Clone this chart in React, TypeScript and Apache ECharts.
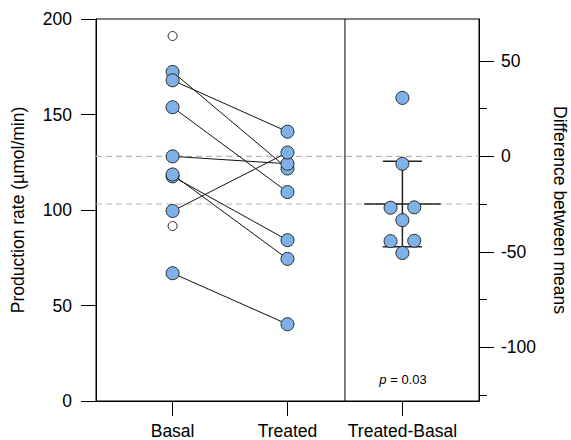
import React, { useEffect, useRef } from 'react';
import * as echarts from 'echarts';

// ---- data ----
const categories = ['Basal', 'Treated', 'Treated-Basal'];
const basalPaired = [172.3, 167.9, 153.8, 128.1, 117.6, 118.6, 99.5, 66.9];
const treatedPaired = [121.7, 141.0, 109.4, 124.2, 84.2, 74.4, 130.1, 40.2];
const basalUnpaired = [191.1, 91.6];
const leftTicks = [0, 50, 100, 150, 200];
const rightMajorTicks = [-100, -50, 0, 50];
const rightMinorTicks = [-125, -75, -25, 25];
const pLabel = { italic: 'p', rest: ' = 0.03' };
const T_CRIT_DF7 = 2.365;

const FONT = "'Liberation Sans', Arial, Helvetica, sans-serif";
const BLUE = '#7EB1E8';
const EDGE = '#2a2a2a';
const FS = 17.5;

const mean = (a: number[]) => a.reduce((s, v) => s + v, 0) / a.length;

export default function App() {
  const ref = useRef<HTMLDivElement>(null);

  useEffect(() => {
    if (!ref.current) return;
    const chart = echarts.init(ref.current, undefined, { renderer: 'svg' });

    const diffs = basalPaired.map((b, i) => treatedPaired[i] - b);
    const basalMean = mean(basalPaired);
    const treatedMean = mean(treatedPaired);
    const diffMean = mean(diffs);
    const sd = Math.sqrt(diffs.reduce((s, d) => s + (d - diffMean) ** 2, 0) / (diffs.length - 1));
    const ci = (T_CRIT_DF7 * sd) / Math.sqrt(diffs.length);
    const yMin = leftTicks[0];
    const yMax = leftTicks[leftTicks.length - 1];
    const rMin = yMin - basalMean;
    const rMax = yMax - basalMean;

    // spread near-identical difference points sideways
    const diffPts = diffs.map((d, i) => {
      const group = diffs.map((v, j) => j).filter((j) => Math.abs(diffs[j] - d) < 3);
      let x = 3;
      if (group.length > 1) {
        const k = group.indexOf(i);
        x = 3 + (k - (group.length - 1) / 2) * 0.206;
      }
      return [x, d];
    });

    const xMin = 1 / 3;
    const xMax = 11 / 3;

    const blackLine = { color: '#000', width: 1 };

    const pairSeries = basalPaired.map((b, i) => ({
      type: 'line',
      data: [
        [1, b],
        [2, treatedPaired[i]],
      ],
      showSymbol: false,
      symbol: 'none',
      lineStyle: { color: '#111', width: 1 },
      z: 3,
      silent: true,
    }));

    const seg = (pts: number[][], axis: number, style: any, z = 2) => ({
      type: 'line',
      data: pts,
      yAxisIndex: axis,
      showSymbol: false,
      symbol: 'none',
      lineStyle: style,
      z,
      silent: true,
    });

    const dashStyle = { color: '#b4b4b4', width: 1.2, type: [6, 4] };
    const barStyle = { color: '#222', width: 1.5 };

    const option: any = {
      animation: false,
      backgroundColor: '#fff',
      textStyle: { fontFamily: FONT },
      grid: {
        left: 96,
        right: 92,
        top: 19,
        bottom: 39,
        show: true,
        borderColor: '#000',
        borderWidth: 1,
        backgroundColor: 'transparent',
        containLabel: false,
        outerBoundsMode: 'none',
      },
      xAxis: {
        type: 'value',
        min: xMin,
        max: xMax,
        splitLine: { show: false },
        axisLine: { show: true, onZero: false, lineStyle: blackLine },
        axisTick: { show: true, length: 15, customValues: [1, 2, 3], lineStyle: blackLine },
        axisLabel: {
          customValues: [1, 2, 3],
          formatter: (v: number) => categories[Math.round(v) - 1] ?? '',
          fontSize: FS,
          color: '#000',
          margin: 21,
          fontFamily: FONT,
        },
      },
      yAxis: [
        {
          type: 'value',
          position: 'left',
          min: yMin,
          max: yMax,
          interval: 50,
          splitLine: { show: false },
          axisLine: { show: true, onZero: false, lineStyle: blackLine },
          axisTick: { show: true, length: 15, lineStyle: blackLine },
          axisLabel: { fontSize: FS, color: '#000', margin: 24, fontFamily: FONT },
          name: 'Production rate (µmol/min)',
          nameLocation: 'middle',
          nameRotate: 90,
          nameGap: 69,
          nameTextStyle: { fontSize: FS, color: '#000', fontFamily: FONT },
        },
        {
          type: 'value',
          position: 'right',
          min: rMin,
          max: rMax,
          splitLine: { show: false },
          axisLine: { show: true, onZero: false, lineStyle: blackLine },
          axisTick: { show: true, length: 15, customValues: rightMajorTicks, lineStyle: blackLine },
          axisLabel: {
            customValues: rightMajorTicks,
            fontSize: FS,
            color: '#000',
            margin: 22,
            fontFamily: FONT,
          },
          name: 'Difference between means',
          nameLocation: 'middle',
          nameRotate: -90,
          nameGap: 72,
          nameTextStyle: { fontSize: FS, color: '#000', fontFamily: FONT },
        },
        {
          type: 'value',
          position: 'right',
          min: rMin,
          max: rMax,
          splitLine: { show: false },
          axisLine: { show: false },
          axisTick: { show: true, length: 8, customValues: rightMinorTicks, lineStyle: blackLine },
          axisLabel: { show: false, customValues: rightMinorTicks },
        },
      ],
      series: [
        // mean dashed lines
        seg([[xMin, basalMean], [xMax, basalMean]], 0, dashStyle, 1),
        seg([[xMin, treatedMean], [xMax, treatedMean]], 0, dashStyle, 1),
        // divider
        seg([[2.5, yMin], [2.5, yMax]], 0, blackLine, 1),
        ...pairSeries,
        // error bar (mean and 95% CI of the differences)
        seg([[3 - 0.333, diffMean], [3 + 0.333, diffMean]], 1, barStyle, 3),
        seg([[3 - 0.17, diffMean + ci], [3 + 0.17, diffMean + ci]], 1, barStyle, 3),
        seg([[3 - 0.17, diffMean - ci], [3 + 0.17, diffMean - ci]], 1, barStyle, 3),
        seg([[3, diffMean - ci], [3, diffMean + ci]], 1, barStyle, 3),
        {
          type: 'scatter',
          data: basalUnpaired.map((v) => [1, v]),
          symbol: 'circle',
          symbolSize: 9,
          itemStyle: { color: '#fff', borderColor: EDGE, borderWidth: 1, opacity: 1 },
          z: 5,
          silent: true,
        },
        {
          type: 'scatter',
          data: [...basalPaired.map((v) => [1, v]), ...treatedPaired.map((v) => [2, v])],
          symbol: 'circle',
          symbolSize: 13,
          itemStyle: { color: BLUE, borderColor: EDGE, borderWidth: 1, opacity: 1 },
          z: 5,
          silent: true,
        },
        {
          type: 'scatter',
          yAxisIndex: 1,
          data: diffPts,
          symbol: 'circle',
          symbolSize: 13,
          itemStyle: { color: BLUE, borderColor: EDGE, borderWidth: 1, opacity: 1 },
          z: 5,
          silent: true,
        },
      ],
      graphic: [
        {
          type: 'text',
          x: 403,
          y: 379,
          style: {
            text: `{i|${pLabel.italic}}{r|${pLabel.rest}}`,
            rich: {
              i: { fontStyle: 'italic', fontSize: 13, fontFamily: FONT, fill: '#000' },
              r: { fontSize: 13, fontFamily: FONT, fill: '#000' },
            },
            align: 'center',
            verticalAlign: 'middle',
          },
          silent: true,
        },
      ],
    };

    chart.setOption(option);
    return () => chart.dispose();
  }, []);

  return (
    <div
      ref={ref}
      style={{ position: 'fixed', left: 0, top: 0, width: 571, height: 440, background: '#fff' }}
    />
  );
}
